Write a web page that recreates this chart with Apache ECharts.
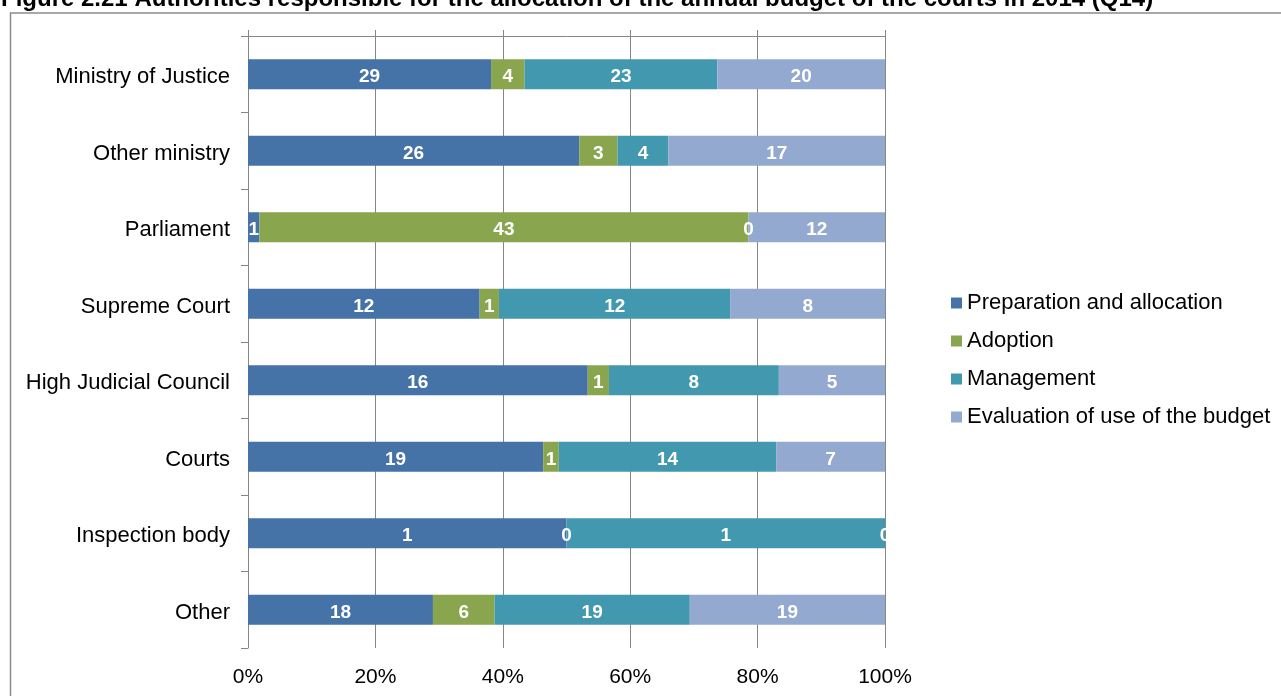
<!DOCTYPE html>
<html>
<head>
<meta charset="utf-8">
<script src="https://cdn.jsdelivr.net/npm/echarts@6/dist/echarts.min.js"></script>
<style>
html,body{margin:0;padding:0;background:#fff;}
#chart{width:1281px;height:696px;}
</style>
</head>
<body>
<div id="chart"></div>
<script>
const titleText = 'Figure 2.21 Authorities responsible for the allocation of the annual budget of the courts in 2014 (Q14)';
const categories = ['Ministry of Justice', 'Other ministry', 'Parliament', 'Supreme Court', 'High Judicial Council', 'Courts', 'Inspection body', 'Other'];
const seriesNames = ['Preparation and allocation', 'Adoption', 'Management', 'Evaluation of use of the budget'];
const preparation = [29, 26, 1, 12, 16, 19, 1, 18];
const adoption    = [4, 3, 43, 1, 1, 1, 0, 6];
const management  = [23, 4, 0, 12, 8, 14, 1, 19];
const evaluation  = [20, 17, 12, 8, 5, 7, 0, 19];
const xTicks = [0, 20, 40, 60, 80, 100];
const colors = ['#4572A7', '#89A54E', '#4198AF', '#93A9CF'];

const counts = [preparation, adoption, management, evaluation];
const totals = categories.map((c, i) => counts.reduce((s, arr) => s + arr[i], 0));

const FONT = "'Liberation Sans', Arial, sans-serif";
const GRID = '#868686';

const series = counts.map((arr, k) => ({
  name: seriesNames[k],
  type: 'bar',
  stack: 'total',
  barWidth: 30,
  itemStyle: { color: colors[k] },
  label: {
    show: true,
    position: 'inside',
    offset: [0, 3],
    color: '#fff',
    fontFamily: FONT,
    fontWeight: 'bold',
    fontSize: 19,
    formatter: p => String(arr[p.dataIndex])
  },
  data: arr.map((v, i) => v / totals[i] * 100)
}));

const chart = echarts.init(document.getElementById('chart'), null, { renderer: 'canvas' });
chart.setOption({
  animation: false,
  textStyle: { fontFamily: FONT },
  title: {
    text: titleText,
    left: 1,
    top: -13,
    padding: 0,
    textStyle: { fontFamily: FONT, fontSize: 24, fontWeight: 'bold', color: '#000' }
  },
  graphic: [{
    type: 'rect',
    shape: { x: 10.5, y: 13, width: 1400, height: 800 },
    style: { fill: 'none', stroke: '#8c8c8c', lineWidth: 1.5 },
    silent: true
  }],
  legend: {
    orient: 'vertical',
    left: 951,
    top: 292,
    padding: 0,
    itemWidth: 11,
    itemHeight: 11,
    itemGap: 16,
    icon: 'rect',
    textStyle: { fontFamily: FONT, fontSize: 22, color: '#000', lineHeight: 22 },
    data: seriesNames
  },
  grid: { left: 248, right: 396, top: 36, bottom: 48, containLabel: false },
  xAxis: [{
    type: 'value',
    position: 'bottom',
    min: xTicks[0],
    max: xTicks[xTicks.length - 1],
    interval: 20,
    axisLine: { show: false },
    axisTick: { show: false },
    axisLabel: { formatter: '{value}%', color: '#000', fontFamily: FONT, fontSize: 21, margin: 19 },
    splitLine: { show: true, lineStyle: { color: GRID, width: 1 } }
  }, {
    type: 'value',
    position: 'top',
    min: xTicks[0],
    max: xTicks[xTicks.length - 1],
    interval: 20,
    axisLine: { show: true, lineStyle: { color: GRID, width: 1 } },
    axisTick: { show: true, length: 6, lineStyle: { color: GRID } },
    axisLabel: { show: false },
    splitLine: { show: false }
  }],
  yAxis: {
    type: 'category',
    inverse: true,
    data: categories,
    axisLine: { show: true, lineStyle: { color: GRID, width: 1 } },
    axisTick: { show: true, length: 7, lineStyle: { color: GRID } },
    axisLabel: { color: '#000', fontFamily: FONT, fontSize: 22, margin: 18, verticalAlign: 'top', lineHeight: 6 },
    splitLine: { show: false }
  },
  series: series
});
</script>
</body>
</html>
